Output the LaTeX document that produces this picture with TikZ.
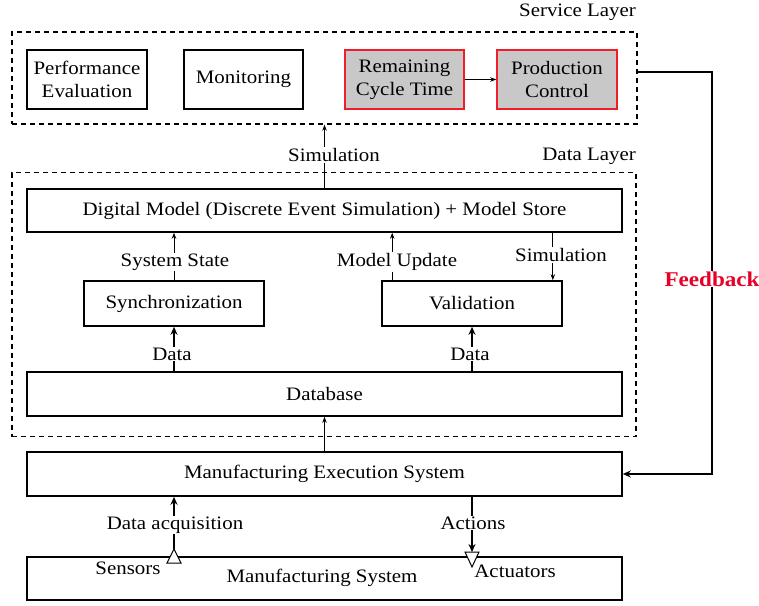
\documentclass[tikz,border=0pt]{standalone}
\usepackage{fontspec}
\setmainfont[FakeStretch=1.1]{Liberation Serif}
\usetikzlibrary{arrows.meta,calc}
\definecolor{fbred}{RGB}{232,0,40}
\definecolor{hotred}{RGB}{240,30,40}
\definecolor{hotgray}{RGB}{200,200,200}
\begin{document}
\begin{tikzpicture}[x=1pt,y=-1pt]
\tikzset{
 txt/.style={font=\fontsize{19}{23}\selectfont},
 blk/.style={draw=black,line width=1.6pt,fill=white,inner sep=0pt,align=center,txt},
 hot/.style={blk,draw=hotred,fill=hotgray},
 layer/.style={draw,line width=1.4pt,dash pattern=on 5pt off 4pt,inner sep=0pt},
 lbl/.style={txt,fill=white,inner sep=1pt},
 tarrow/.style={line width=0.8pt,-{Stealth[length=6pt,width=4.5pt]}},
 barrow/.style={line width=1.2pt,-{Stealth[length=8pt,width=7pt]}},
 tri/.style={line width=1pt,fill=white},
}
\useasboundingbox (0,0) rectangle (759,605);
% layers
\node[layer,minimum width=625pt,minimum height=92pt] (service) at (324.5,78) {};
\node[layer,minimum width=624pt,minimum height=264pt] (datal) at (324,304.5) {};
\node[txt,anchor=east,inner sep=0pt] (slab) at (636,12) {Service Layer};
\node[txt,anchor=east,inner sep=0pt] (dlab) at (636,156) {Data Layer};
% service blocks
\node[blk,minimum width=120pt,minimum height=59pt] (perf) at (87,79.5) {Performance\\Evaluation};
\node[blk,minimum width=119pt,minimum height=59pt] (mon) at (243.5,79.5) {Monitoring};
\node[hot,minimum width=119pt,minimum height=59pt] (rct) at (404.5,79.5) {Remaining\\Cycle Time};
\node[hot,minimum width=120pt,minimum height=59pt] (pc) at (557,79.5) {Production\\Control};
% data layer blocks
\node[blk,minimum width=595pt,minimum height=43pt] (dm) at (324.5,210.5) {Digital Model (Discrete Event Simulation) + Model Store};
\node[blk,minimum width=180pt,minimum height=45pt] (sync) at (174,303.5) {Synchronization};
\node[blk,minimum width=180pt,minimum height=45pt] (val) at (472,303.5) {Validation};
\node[blk,minimum width=595pt,minimum height=44pt] (db) at (324.5,394) {Database};
% lower blocks
\node[blk,minimum width=595pt,minimum height=44pt] (mes) at (324.5,474) {Manufacturing Execution System};
\node[blk,minimum width=595pt,minimum height=43pt] (ms) at (324.5,578.5) {};
\node[txt,inner sep=0pt] (mstxt) at (322,578) {Manufacturing System};
% connectors
\draw[tarrow] (rct) -- (pc);
\draw[tarrow] (dm.north) -- (dm.north |- service.south);
\node[lbl] (simlab) at (334,155) {Simulation};
\draw[tarrow] (sync.north) -- (sync.north |- dm.south);
\node[lbl] (sslab) at (175,262) {System State};
\coordinate (mu) at ($(val.north west)+(11,0)$);
\draw[tarrow] (mu) -- (mu |- dm.south);
\node[lbl] (mulab) at (397,262) {Model Update};
\coordinate (vs) at ($(val.north east)+(-10,0)$);
\draw[tarrow] (vs |- dm.south) -- (vs);
\node[lbl] (vslab) at (561,255) {Simulation};
\draw[barrow] (db.north -| sync.south) -- (sync.south);
\node[lbl] (d1lab) at (172,354) {Data};
\draw[barrow] (db.north -| val.south) -- (val.south);
\node[lbl] (d2lab) at (470,354) {Data};
\draw[tarrow] (mes.north -| dm.north) -- (db.south -| dm.north);
% sensors / actuators
\coordinate (sens) at (174,549);
\coordinate (act) at (472,552);
\draw[barrow] (sens) -- (sens |- mes.south);
\node[lbl] (dalab) at (175,525) {Data acquisition};
\draw[barrow] (mes.south -| act) -- (act);
\node[lbl] (aclab) at (473,523) {Actions};
\draw[tri] (sens) -- ($(sens)+(7,14)$) -- ($(sens)+(-7,14)$) -- cycle;
\draw[tri] ($(act)+(-7,0)$) -- ($(act)+(7,0)$) -- ($(act)+(0,15)$) -- cycle;
\node[txt,inner sep=0pt] (senslab) at (128,568) {Sensors};
\node[txt,inner sep=0pt] (actlab) at (515,571) {Actuators};
% feedback
\coordinate (fbtop) at (712,72);
\draw[line width=1.4pt,-{Stealth[length=8pt,width=7pt]}] (service.east |- fbtop) -- (fbtop) -- (fbtop |- mes.east) -- (mes.east);
\node[lbl,font=\bfseries\fontsize{21}{24}\selectfont,text=fbred] (fblab) at (712,279) {Feedback};
\end{tikzpicture}
\end{document}
